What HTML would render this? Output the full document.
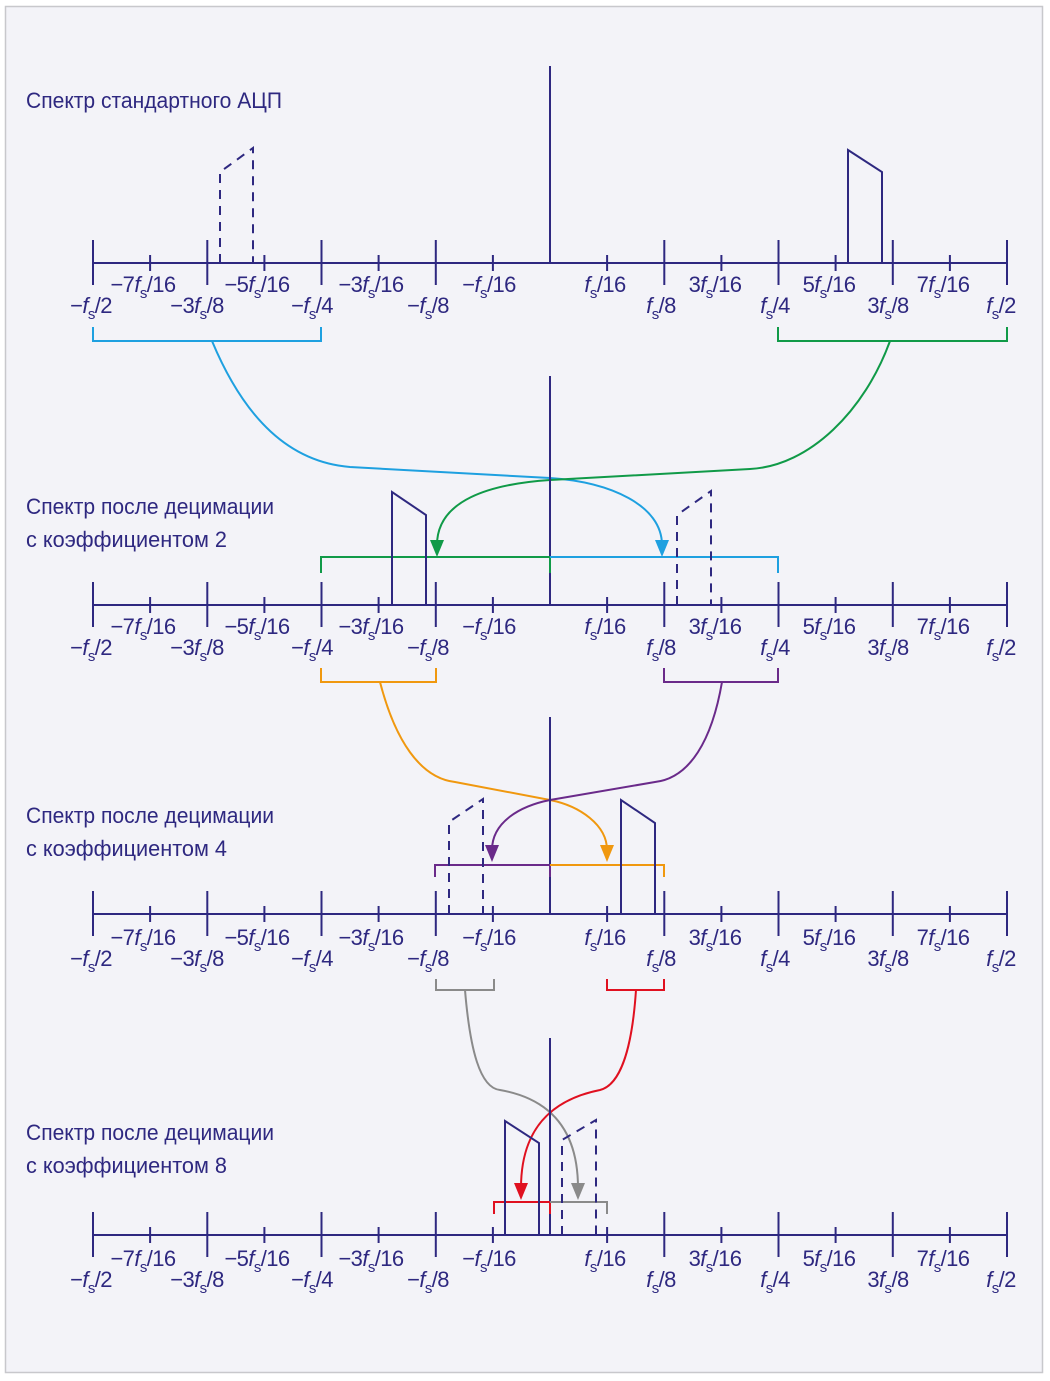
<!DOCTYPE html>
<html><head><meta charset="utf-8"><style>
html,body{margin:0;padding:0;background:#fff}
svg{display:block}
text{font-family:"Liberation Sans Narrow","Liberation Sans",sans-serif;fill:#2e2880;font-size:22px;letter-spacing:-0.6px}
text.t{letter-spacing:0}
</style></head><body>
<svg width="1050" height="1381" viewBox="0 0 1050 1381" xmlns="http://www.w3.org/2000/svg">
<defs>
<g id="ax" stroke="#2e2880" stroke-width="2" fill="none">
<line x1="93" y1="0" x2="1007" y2="0"/>
<path d="M93 -23V22M207.3 -23V22M321.5 -23V22M435.8 -23V22M664.3 -23V22M778.5 -23V22M892.8 -23V22M1007 -23V22M150.1 -8V8M264.4 -8V8M378.6 -8V8M492.9 -8V8M607.1 -8V8M721.4 -8V8M835.6 -8V8M949.9 -8V8"/>
</g>
</defs>
<rect x="0" y="0" width="1050" height="1381" fill="#fff"/>
<rect x="5.5" y="6.5" width="1037" height="1366" fill="#f3f3f8" stroke="#c8c8cc" stroke-width="1.5"/>

<!-- Panel 1 -->
<text class="t" x="26" y="108" textLength="256" lengthAdjust="spacingAndGlyphs">Спектр стандартного АЦП</text>
<use href="#ax" y="263"/>
<line x1="550" y1="66" x2="550" y2="263" stroke="#2e2880" stroke-width="2"/>
<path d="M220 263V172L253 148V263" fill="none" stroke="#2e2880" stroke-width="2" stroke-dasharray="9,7"/>
<path d="M848 263V150L882 172V263" fill="none" stroke="#2e2880" stroke-width="2"/>
<g>
<text x="143" y="292" text-anchor="middle">−7<tspan font-style="italic">f</tspan><tspan font-size="15" dy="6">s</tspan><tspan dy="-6">/16</tspan></text>
<text x="257" y="292" text-anchor="middle">−5<tspan font-style="italic">f</tspan><tspan font-size="15" dy="6">s</tspan><tspan dy="-6">/16</tspan></text>
<text x="371" y="292" text-anchor="middle">−3<tspan font-style="italic">f</tspan><tspan font-size="15" dy="6">s</tspan><tspan dy="-6">/16</tspan></text>
<text x="489" y="292" text-anchor="middle">−<tspan font-style="italic">f</tspan><tspan font-size="15" dy="6">s</tspan><tspan dy="-6">/16</tspan></text>
<text x="605" y="292" text-anchor="middle"><tspan font-style="italic">f</tspan><tspan font-size="15" dy="6">s</tspan><tspan dy="-6">/16</tspan></text>
<text x="715" y="292" text-anchor="middle">3<tspan font-style="italic">f</tspan><tspan font-size="15" dy="6">s</tspan><tspan dy="-6">/16</tspan></text>
<text x="829" y="292" text-anchor="middle">5<tspan font-style="italic">f</tspan><tspan font-size="15" dy="6">s</tspan><tspan dy="-6">/16</tspan></text>
<text x="943" y="292" text-anchor="middle">7<tspan font-style="italic">f</tspan><tspan font-size="15" dy="6">s</tspan><tspan dy="-6">/16</tspan></text>
<text x="91" y="313" text-anchor="middle">−<tspan font-style="italic">f</tspan><tspan font-size="15" dy="6">s</tspan><tspan dy="-6">/2</tspan></text>
<text x="197" y="313" text-anchor="middle">−3<tspan font-style="italic">f</tspan><tspan font-size="15" dy="6">s</tspan><tspan dy="-6">/8</tspan></text>
<text x="312" y="313" text-anchor="middle">−<tspan font-style="italic">f</tspan><tspan font-size="15" dy="6">s</tspan><tspan dy="-6">/4</tspan></text>
<text x="428" y="313" text-anchor="middle">−<tspan font-style="italic">f</tspan><tspan font-size="15" dy="6">s</tspan><tspan dy="-6">/8</tspan></text>
<text x="661" y="313" text-anchor="middle"><tspan font-style="italic">f</tspan><tspan font-size="15" dy="6">s</tspan><tspan dy="-6">/8</tspan></text>
<text x="775" y="313" text-anchor="middle"><tspan font-style="italic">f</tspan><tspan font-size="15" dy="6">s</tspan><tspan dy="-6">/4</tspan></text>
<text x="888" y="313" text-anchor="middle">3<tspan font-style="italic">f</tspan><tspan font-size="15" dy="6">s</tspan><tspan dy="-6">/8</tspan></text>
<text x="1001" y="313" text-anchor="middle"><tspan font-style="italic">f</tspan><tspan font-size="15" dy="6">s</tspan><tspan dy="-6">/2</tspan></text>
</g>
<path d="M93 327V341H321V327" fill="none" stroke="#1ea0e0" stroke-width="2"/>
<path d="M778 327V341H1007V327" fill="none" stroke="#109a48" stroke-width="2"/>
<path d="M212 341C245 420 290 462 350 467L550 478C610 482 662 505 662 545" fill="none" stroke="#1ea0e0" stroke-width="2"/>
<polygon points="655,540 669,540 662,557" fill="#1ea0e0"/>
<path d="M890 341C865 410 810 466 750 469L550 480C490 484 437 500 437 545" fill="none" stroke="#109a48" stroke-width="2"/>
<polygon points="430,540 444,540 437,557" fill="#109a48"/>

<!-- Panel 2 -->
<text class="t" x="26" y="514" textLength="248" lengthAdjust="spacingAndGlyphs">Спектр после децимации</text>
<text class="t" x="26" y="547" textLength="201" lengthAdjust="spacingAndGlyphs">с коэффициентом 2</text>
<use href="#ax" y="605"/>
<line x1="550" y1="376" x2="550" y2="605" stroke="#2e2880" stroke-width="2"/>
<path d="M321 573V557H550V573" fill="none" stroke="#109a48" stroke-width="2"/>
<path d="M550 557H778V573" fill="none" stroke="#1ea0e0" stroke-width="2"/>
<path d="M392 605V492L426 515V605" fill="none" stroke="#2e2880" stroke-width="2"/>
<path d="M677 605V515L711 491V605" fill="none" stroke="#2e2880" stroke-width="2" stroke-dasharray="9,7"/>
<g>
<text x="143" y="634" text-anchor="middle">−7<tspan font-style="italic">f</tspan><tspan font-size="15" dy="6">s</tspan><tspan dy="-6">/16</tspan></text>
<text x="257" y="634" text-anchor="middle">−5<tspan font-style="italic">f</tspan><tspan font-size="15" dy="6">s</tspan><tspan dy="-6">/16</tspan></text>
<text x="371" y="634" text-anchor="middle">−3<tspan font-style="italic">f</tspan><tspan font-size="15" dy="6">s</tspan><tspan dy="-6">/16</tspan></text>
<text x="489" y="634" text-anchor="middle">−<tspan font-style="italic">f</tspan><tspan font-size="15" dy="6">s</tspan><tspan dy="-6">/16</tspan></text>
<text x="605" y="634" text-anchor="middle"><tspan font-style="italic">f</tspan><tspan font-size="15" dy="6">s</tspan><tspan dy="-6">/16</tspan></text>
<text x="715" y="634" text-anchor="middle">3<tspan font-style="italic">f</tspan><tspan font-size="15" dy="6">s</tspan><tspan dy="-6">/16</tspan></text>
<text x="829" y="634" text-anchor="middle">5<tspan font-style="italic">f</tspan><tspan font-size="15" dy="6">s</tspan><tspan dy="-6">/16</tspan></text>
<text x="943" y="634" text-anchor="middle">7<tspan font-style="italic">f</tspan><tspan font-size="15" dy="6">s</tspan><tspan dy="-6">/16</tspan></text>
<text x="91" y="655" text-anchor="middle">−<tspan font-style="italic">f</tspan><tspan font-size="15" dy="6">s</tspan><tspan dy="-6">/2</tspan></text>
<text x="197" y="655" text-anchor="middle">−3<tspan font-style="italic">f</tspan><tspan font-size="15" dy="6">s</tspan><tspan dy="-6">/8</tspan></text>
<text x="312" y="655" text-anchor="middle">−<tspan font-style="italic">f</tspan><tspan font-size="15" dy="6">s</tspan><tspan dy="-6">/4</tspan></text>
<text x="428" y="655" text-anchor="middle">−<tspan font-style="italic">f</tspan><tspan font-size="15" dy="6">s</tspan><tspan dy="-6">/8</tspan></text>
<text x="661" y="655" text-anchor="middle"><tspan font-style="italic">f</tspan><tspan font-size="15" dy="6">s</tspan><tspan dy="-6">/8</tspan></text>
<text x="775" y="655" text-anchor="middle"><tspan font-style="italic">f</tspan><tspan font-size="15" dy="6">s</tspan><tspan dy="-6">/4</tspan></text>
<text x="888" y="655" text-anchor="middle">3<tspan font-style="italic">f</tspan><tspan font-size="15" dy="6">s</tspan><tspan dy="-6">/8</tspan></text>
<text x="1001" y="655" text-anchor="middle"><tspan font-style="italic">f</tspan><tspan font-size="15" dy="6">s</tspan><tspan dy="-6">/2</tspan></text>
</g>
<path d="M321 668V682H436V668" fill="none" stroke="#f0980f" stroke-width="2"/>
<path d="M664 668V682H778V668" fill="none" stroke="#6a2a8a" stroke-width="2"/>
<path d="M380 682C395 740 420 778 455 782L550 800C580 806 607 825 607 850" fill="none" stroke="#f0980f" stroke-width="2"/>
<polygon points="600,845 614,845 607,862" fill="#f0980f"/>
<path d="M722 682C712 740 690 778 655 782L550 800C520 806 492 822 492 850" fill="none" stroke="#6a2a8a" stroke-width="2"/>
<polygon points="485,845 499,845 492,862" fill="#6a2a8a"/>

<!-- Panel 3 -->
<text class="t" x="26" y="823" textLength="248" lengthAdjust="spacingAndGlyphs">Спектр после децимации</text>
<text class="t" x="26" y="856" textLength="201" lengthAdjust="spacingAndGlyphs">с коэффициентом 4</text>
<use href="#ax" y="914"/>
<line x1="550" y1="717" x2="550" y2="914" stroke="#2e2880" stroke-width="2"/>
<path d="M435 877V865H550V877" fill="none" stroke="#6a2a8a" stroke-width="2"/>
<path d="M550 865H664V877" fill="none" stroke="#f0980f" stroke-width="2"/>
<path d="M449 914V822L483 799V914" fill="none" stroke="#2e2880" stroke-width="2" stroke-dasharray="9,7"/>
<path d="M621 914V800L655 823V914" fill="none" stroke="#2e2880" stroke-width="2"/>
<g>
<text x="143" y="945" text-anchor="middle">−7<tspan font-style="italic">f</tspan><tspan font-size="15" dy="6">s</tspan><tspan dy="-6">/16</tspan></text>
<text x="257" y="945" text-anchor="middle">−5<tspan font-style="italic">f</tspan><tspan font-size="15" dy="6">s</tspan><tspan dy="-6">/16</tspan></text>
<text x="371" y="945" text-anchor="middle">−3<tspan font-style="italic">f</tspan><tspan font-size="15" dy="6">s</tspan><tspan dy="-6">/16</tspan></text>
<text x="489" y="945" text-anchor="middle">−<tspan font-style="italic">f</tspan><tspan font-size="15" dy="6">s</tspan><tspan dy="-6">/16</tspan></text>
<text x="605" y="945" text-anchor="middle"><tspan font-style="italic">f</tspan><tspan font-size="15" dy="6">s</tspan><tspan dy="-6">/16</tspan></text>
<text x="715" y="945" text-anchor="middle">3<tspan font-style="italic">f</tspan><tspan font-size="15" dy="6">s</tspan><tspan dy="-6">/16</tspan></text>
<text x="829" y="945" text-anchor="middle">5<tspan font-style="italic">f</tspan><tspan font-size="15" dy="6">s</tspan><tspan dy="-6">/16</tspan></text>
<text x="943" y="945" text-anchor="middle">7<tspan font-style="italic">f</tspan><tspan font-size="15" dy="6">s</tspan><tspan dy="-6">/16</tspan></text>
<text x="91" y="966" text-anchor="middle">−<tspan font-style="italic">f</tspan><tspan font-size="15" dy="6">s</tspan><tspan dy="-6">/2</tspan></text>
<text x="197" y="966" text-anchor="middle">−3<tspan font-style="italic">f</tspan><tspan font-size="15" dy="6">s</tspan><tspan dy="-6">/8</tspan></text>
<text x="312" y="966" text-anchor="middle">−<tspan font-style="italic">f</tspan><tspan font-size="15" dy="6">s</tspan><tspan dy="-6">/4</tspan></text>
<text x="428" y="966" text-anchor="middle">−<tspan font-style="italic">f</tspan><tspan font-size="15" dy="6">s</tspan><tspan dy="-6">/8</tspan></text>
<text x="661" y="966" text-anchor="middle"><tspan font-style="italic">f</tspan><tspan font-size="15" dy="6">s</tspan><tspan dy="-6">/8</tspan></text>
<text x="775" y="966" text-anchor="middle"><tspan font-style="italic">f</tspan><tspan font-size="15" dy="6">s</tspan><tspan dy="-6">/4</tspan></text>
<text x="888" y="966" text-anchor="middle">3<tspan font-style="italic">f</tspan><tspan font-size="15" dy="6">s</tspan><tspan dy="-6">/8</tspan></text>
<text x="1001" y="966" text-anchor="middle"><tspan font-style="italic">f</tspan><tspan font-size="15" dy="6">s</tspan><tspan dy="-6">/2</tspan></text>
</g>
<path d="M436 979V990H494V979" fill="none" stroke="#8a8a8a" stroke-width="2"/>
<path d="M607 979V990H664V979" fill="none" stroke="#e01020" stroke-width="2"/>
<path d="M465 990C470 1050 480 1088 500 1090C540 1097 578 1120 578 1188" fill="none" stroke="#8a8a8a" stroke-width="2"/>
<polygon points="571,1183 585,1183 578,1200" fill="#8a8a8a"/>
<path d="M636 990C632 1050 620 1085 600 1090C550 1100 521 1130 521 1188" fill="none" stroke="#e01020" stroke-width="2"/>
<polygon points="514,1183 528,1183 521,1200" fill="#e01020"/>

<!-- Panel 4 -->
<text class="t" x="26" y="1140" textLength="248" lengthAdjust="spacingAndGlyphs">Спектр после децимации</text>
<text class="t" x="26" y="1173" textLength="201" lengthAdjust="spacingAndGlyphs">с коэффициентом 8</text>
<use href="#ax" y="1235"/>
<line x1="550" y1="1038" x2="550" y2="1235" stroke="#2e2880" stroke-width="2"/>
<path d="M494 1214V1202H550V1214" fill="none" stroke="#e01020" stroke-width="2"/>
<path d="M550 1202H607V1214" fill="none" stroke="#8a8a8a" stroke-width="2"/>
<path d="M505 1235V1121L539 1143V1235" fill="none" stroke="#2e2880" stroke-width="2"/>
<path d="M562 1235V1140L596 1120V1235" fill="none" stroke="#2e2880" stroke-width="2" stroke-dasharray="9,7"/>
<g>
<text x="143" y="1266" text-anchor="middle">−7<tspan font-style="italic">f</tspan><tspan font-size="15" dy="6">s</tspan><tspan dy="-6">/16</tspan></text>
<text x="257" y="1266" text-anchor="middle">−5<tspan font-style="italic">f</tspan><tspan font-size="15" dy="6">s</tspan><tspan dy="-6">/16</tspan></text>
<text x="371" y="1266" text-anchor="middle">−3<tspan font-style="italic">f</tspan><tspan font-size="15" dy="6">s</tspan><tspan dy="-6">/16</tspan></text>
<text x="489" y="1266" text-anchor="middle">−<tspan font-style="italic">f</tspan><tspan font-size="15" dy="6">s</tspan><tspan dy="-6">/16</tspan></text>
<text x="605" y="1266" text-anchor="middle"><tspan font-style="italic">f</tspan><tspan font-size="15" dy="6">s</tspan><tspan dy="-6">/16</tspan></text>
<text x="715" y="1266" text-anchor="middle">3<tspan font-style="italic">f</tspan><tspan font-size="15" dy="6">s</tspan><tspan dy="-6">/16</tspan></text>
<text x="829" y="1266" text-anchor="middle">5<tspan font-style="italic">f</tspan><tspan font-size="15" dy="6">s</tspan><tspan dy="-6">/16</tspan></text>
<text x="943" y="1266" text-anchor="middle">7<tspan font-style="italic">f</tspan><tspan font-size="15" dy="6">s</tspan><tspan dy="-6">/16</tspan></text>
<text x="91" y="1287" text-anchor="middle">−<tspan font-style="italic">f</tspan><tspan font-size="15" dy="6">s</tspan><tspan dy="-6">/2</tspan></text>
<text x="197" y="1287" text-anchor="middle">−3<tspan font-style="italic">f</tspan><tspan font-size="15" dy="6">s</tspan><tspan dy="-6">/8</tspan></text>
<text x="312" y="1287" text-anchor="middle">−<tspan font-style="italic">f</tspan><tspan font-size="15" dy="6">s</tspan><tspan dy="-6">/4</tspan></text>
<text x="428" y="1287" text-anchor="middle">−<tspan font-style="italic">f</tspan><tspan font-size="15" dy="6">s</tspan><tspan dy="-6">/8</tspan></text>
<text x="661" y="1287" text-anchor="middle"><tspan font-style="italic">f</tspan><tspan font-size="15" dy="6">s</tspan><tspan dy="-6">/8</tspan></text>
<text x="775" y="1287" text-anchor="middle"><tspan font-style="italic">f</tspan><tspan font-size="15" dy="6">s</tspan><tspan dy="-6">/4</tspan></text>
<text x="888" y="1287" text-anchor="middle">3<tspan font-style="italic">f</tspan><tspan font-size="15" dy="6">s</tspan><tspan dy="-6">/8</tspan></text>
<text x="1001" y="1287" text-anchor="middle"><tspan font-style="italic">f</tspan><tspan font-size="15" dy="6">s</tspan><tspan dy="-6">/2</tspan></text>
</g>
</svg>
</body></html>
